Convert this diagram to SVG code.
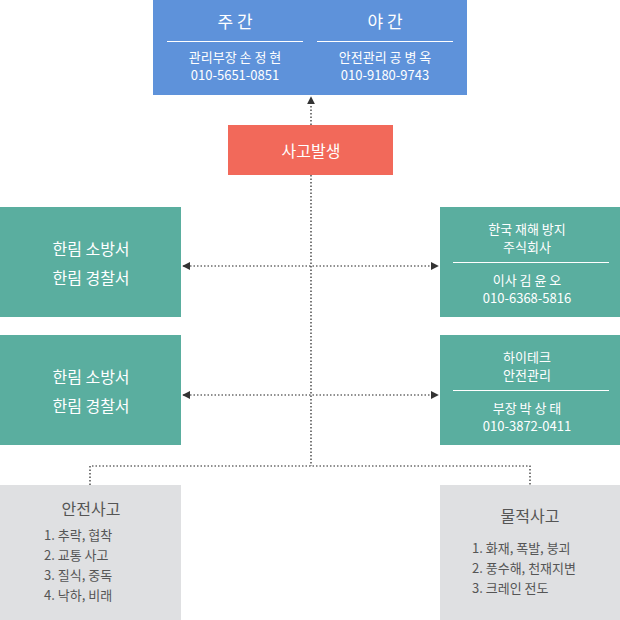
<svg xmlns="http://www.w3.org/2000/svg" width="620" height="620" viewBox="0 0 620 620">
<style>
text{font-family:"Noto Sans CJK KR","Noto Sans",sans-serif;text-anchor:middle;fill:#fff}
.g text{fill:#555}
.c{stroke:#222;stroke-width:1.2;stroke-dasharray:1.5 2;fill:none}
.w{stroke:#fff;stroke-width:1}
</style>
<defs>
<marker id="a" viewBox="0 0 10 10" refX="9" refY="5" markerWidth="8" markerHeight="8" orient="auto-start-reverse" markerUnits="userSpaceOnUse"><path d="M0,0L10,5L0,10z" fill="#333"/></marker>
</defs>
<g id="connectors">
<path class="c" d="M311,125V97" marker-end="url(#a)"/>
<path class="c" d="M311,175V466"/>
<path class="c" d="M183,266H438" marker-start="url(#a)" marker-end="url(#a)"/>
<path class="c" d="M183,395H438" marker-start="url(#a)" marker-end="url(#a)"/>
<path class="c" d="M90,485V466H530V485"/>
</g>
<g id="contact">
<rect x="153" y="0" width="314" height="95" fill="#5e92da"/>
<text x="235" y="28" font-size="17">주 간</text>
<text x="385" y="28" font-size="17">야 간</text>
<line class="w" x1="167" y1="41.5" x2="303" y2="41.5"/>
<line class="w" x1="317" y1="41.5" x2="453" y2="41.5"/>
<text x="235" y="62" font-size="13">관리부장  손 정 현</text>
<text x="235" y="80" font-size="13">010-5651-0851</text>
<text x="385" y="62" font-size="13">안전관리 공 병 옥</text>
<text x="385" y="80" font-size="13">010-9180-9743</text>
</g>
<g id="accident">
<rect x="228" y="125" width="165" height="50" fill="#f2695a"/>
<text x="311" y="157" font-size="16">사고발생</text>
</g>
<g id="left1">
<rect x="0" y="207" width="181" height="110" fill="#5aae9f"/>
<text x="91" y="255" font-size="16">한림 소방서</text>
<text x="91" y="284" font-size="16">한림 경찰서</text>
</g>
<g id="left2">
<rect x="0" y="335" width="181" height="110" fill="#5aae9f"/>
<text x="91" y="383" font-size="16">한림 소방서</text>
<text x="91" y="412" font-size="16">한림 경찰서</text>
</g>
<g id="right1">
<rect x="440" y="207" width="180" height="110" fill="#5aae9f"/>
<text x="527" y="234" font-size="13">한국 재해 방지</text>
<text x="527" y="252" font-size="13">주식회사</text>
<line class="w" x1="453" y1="262.5" x2="609" y2="262.5"/>
<text x="527" y="285" font-size="13">이사  김 윤 오</text>
<text x="527" y="303" font-size="13">010-6368-5816</text>
</g>
<g id="right2">
<rect x="440" y="335" width="180" height="110" fill="#5aae9f"/>
<text x="527" y="362" font-size="13">하이테크</text>
<text x="527" y="380" font-size="13">안전관리</text>
<line class="w" x1="453" y1="390.5" x2="609" y2="390.5"/>
<text x="527" y="413" font-size="13">부장  박 상 태</text>
<text x="527" y="431" font-size="13">010-3872-0411</text>
</g>
<g id="safety" class="g">
<rect x="0" y="485" width="181" height="135" fill="#dfe0e2"/>
<text x="91" y="515" font-size="16">안전사고</text>
<g style="text-anchor:start"><text x="44" y="540" font-size="13" style="text-anchor:start">1. 추락, 협착</text>
<text x="44" y="560" font-size="13" style="text-anchor:start">2. 교통 사고</text>
<text x="44" y="580" font-size="13" style="text-anchor:start">3. 질식, 중독</text>
<text x="44" y="600" font-size="13" style="text-anchor:start">4. 낙하, 비래</text></g>
</g>
<g id="property" class="g">
<rect x="440" y="485" width="180" height="135" fill="#dfe0e2"/>
<text x="530" y="522" font-size="16">물적사고</text>
<text x="472" y="553" font-size="13" style="text-anchor:start">1. 화재, 폭발, 붕괴</text>
<text x="472" y="573" font-size="13" style="text-anchor:start">2. 풍수해, 천재지변</text>
<text x="472" y="593" font-size="13" style="text-anchor:start">3. 크레인 전도</text>
</g>
</svg>
